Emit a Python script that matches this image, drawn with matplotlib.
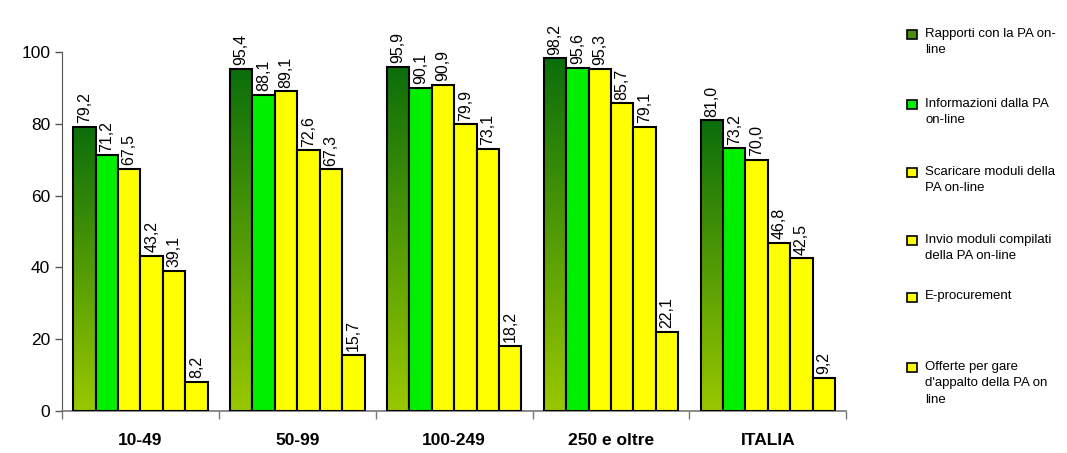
import numpy as np
import matplotlib.pyplot as plt
from matplotlib.colors import LinearSegmentedColormap

# classi di addetti e serie
categorie = ['10-49', '50-99', '100-249', '250 e oltre', 'ITALIA']
serie = [
    "Rapporti con la PA on-\nline",
    "Informazioni dalla PA\non-line",
    "Scaricare moduli della\nPA on-line",
    "Invio moduli compilati\ndella PA on-line",
    "E-procurement",
    "Offerte per gare\nd'appalto della PA on\nline",
]
rapporti = [79.2, 95.4, 95.9, 98.2, 81.0]
informazioni = [71.2, 88.1, 90.1, 95.6, 73.2]
scaricare = [67.5, 89.1, 90.9, 95.3, 70.0]
invio = [43.2, 72.6, 79.9, 85.7, 46.8]
eprocurement = [39.1, 67.3, 73.1, 79.1, 42.5]
offerte = [8.2, 15.7, 18.2, 22.1, 9.2]
valori = [rapporti, informazioni, scaricare, invio, eprocurement, offerte]

colori = [None, '#00f000', '#ffff00', '#ffff00', '#ffff00', '#ffff00']
sfumatura = LinearSegmentedColormap.from_list('verde', ['#99c800', '#0b6e0b'])

plt.rcParams['font.family'] = ['Liberation Sans', 'DejaVu Sans']

fig = plt.figure(figsize=(10.67, 4.53), dpi=100)
ax = fig.add_axes([0.0581, 0.0927, 0.735, 0.7925])

x = np.arange(len(categorie))
w = 0.143
start = -2.5 * w

for i, vals in enumerate(valori):
    pos = x + start + i * w
    if colori[i] is None:
        bars = ax.bar(pos, vals, w, color='none', edgecolor='black', linewidth=1.5, zorder=3)
        for b in bars:
            x0 = b.get_x()
            h = b.get_height()
            grad = np.linspace(0, 1, 256).reshape(-1, 1)
            im = ax.imshow(grad, cmap=sfumatura, origin='lower', aspect='auto',
                           extent=[x0, x0 + w, 0, h], zorder=2)
            im.set_clip_path(b)
    else:
        bars = ax.bar(pos, vals, w, color=colori[i], edgecolor='black', linewidth=1.5, zorder=3)
    for b, v in zip(bars, vals):
        ax.text(b.get_x() + w / 2, v + 1.0, f'{v:.1f}'.replace('.', ','),
                rotation=90, ha='center', va='bottom', fontsize=11.5,
                bbox=dict(facecolor='white', edgecolor='none', pad=0.5), zorder=4)

ax.set_xlim(-0.5, len(categorie) - 0.5)
ax.set_ylim(0, 100)
ax.set_yticks([0, 20, 40, 60, 80, 100])
ax.tick_params(axis='y', labelsize=12.5, length=5, width=1, color='#555555')
ax.set_xticks(x)
ax.set_xticklabels(categorie, fontsize=12.5, fontweight='bold')
ax.tick_params(axis='x', length=0, pad=16)
ax.set_xticks(np.arange(len(categorie) + 1) - 0.5, minor=True)
ax.tick_params(axis='x', which='minor', length=6, width=1, color='#777777')
for s in ['top', 'right']:
    ax.spines[s].set_visible(False)
ax.spines['left'].set_color('#555555')
ax.spines['bottom'].set_color('#777777')
ax.spines['bottom'].set_linewidth(1.2)

# legenda a destra
righe_y = [0.925, 0.77, 0.62, 0.47, 0.345, 0.19]
marcatori = ['#4a8c10', '#00f000', '#ffff00', '#ffff00', '#ffff00', '#ffff00']
for testo, ty, col in zip(serie, righe_y, marcatori):
    fig.patches.append(plt.Rectangle((0.8505, ty - 0.011), 0.0085, 0.02, transform=fig.transFigure,
                                     facecolor=col, edgecolor='black', linewidth=1.2))
    fig.text(0.867, ty + 0.014, testo, fontsize=9.5, va='top', ha='left',
             linespacing=1.5)

fig.savefig('out.png', dpi=100)
